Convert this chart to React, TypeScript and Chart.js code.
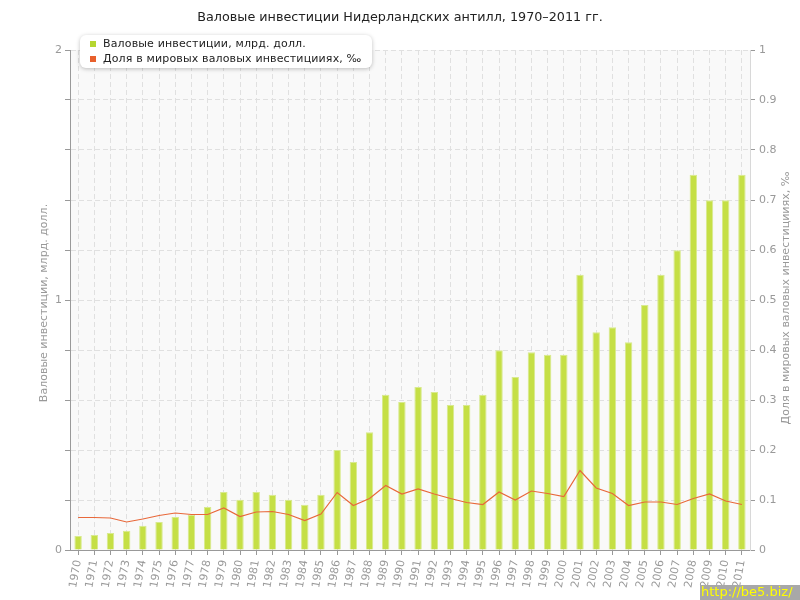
import React, { useEffect, useRef } from 'react';
import { Chart, registerables } from 'chart.js';

Chart.register(...registerables);

const TITLE = 'Валовые инвестиции Нидерландских антилл, 1970–2011 гг.';
const LEFT_TITLE = 'Валовые инвестиции, млрд. долл.';
const RIGHT_TITLE = 'Доля в мировых валовых инвестицииях, ‰';
const SERIES_BAR = 'Валовые инвестиции, млрд. долл.';
const SERIES_LINE = 'Доля в мировых валовых инвестицииях, ‰';

const years = [
  '1970', '1971', '1972', '1973', '1974', '1975', '1976', '1977', '1978', '1979',
  '1980', '1981', '1982', '1983', '1984', '1985', '1986', '1987', '1988', '1989',
  '1990', '1991', '1992', '1993', '1994', '1995', '1996', '1997', '1998', '1999',
  '2000', '2001', '2002', '2003', '2004', '2005', '2006', '2007', '2008', '2009',
  '2010', '2011',
];

const investments = [
  0.056, 0.06, 0.068, 0.077, 0.097, 0.112, 0.132, 0.141, 0.172, 0.232,
  0.201, 0.232, 0.221, 0.201, 0.181, 0.221, 0.4, 0.352, 0.471, 0.621,
  0.592, 0.652, 0.632, 0.58, 0.58, 0.621, 0.799, 0.692, 0.791, 0.781,
  0.781, 1.101, 0.871, 0.891, 0.831, 0.98, 1.101, 1.199, 1.501, 1.399,
  1.399, 1.501,
];

const worldShare = [
  0.065, 0.065, 0.064, 0.056, 0.062, 0.069, 0.074, 0.071, 0.071, 0.084,
  0.067, 0.076, 0.077, 0.071, 0.059, 0.072, 0.115, 0.089, 0.103, 0.129,
  0.112, 0.122, 0.112, 0.103, 0.095, 0.091, 0.116, 0.1, 0.118, 0.113,
  0.107, 0.159, 0.124, 0.113, 0.089, 0.096, 0.096, 0.091, 0.103, 0.112,
  0.098, 0.091,
];

const leftLabels = ['0', '1', '2'];

const FONT = '"DejaVu Sans", Verdana, sans-serif';
const BAR_COLOR = '#c5df45';
const LINE_COLOR = '#e8683a';

const decor = {
  id: 'decor',
  beforeDraw(chart: any) {
    const { ctx, chartArea: a } = chart;
    ctx.save();
    ctx.fillStyle = '#f9f9f9';
    ctx.fillRect(a.left, a.top, a.right - a.left, a.bottom - a.top);
    ctx.restore();
  },
  afterDraw(chart: any) {
    const { ctx } = chart;
    ctx.save();
    ctx.fillStyle = '#222';
    ctx.font = '12.75px ' + FONT;
    ctx.textAlign = 'center';
    ctx.textBaseline = 'middle';
    ctx.fillText(TITLE, 400, 18);

    ctx.fillStyle = '#999';
    ctx.font = '11px ' + FONT;
    ctx.save();
    ctx.translate(44, 303);
    ctx.rotate(-Math.PI / 2);
    ctx.fillText(LEFT_TITLE, 0, 0);
    ctx.restore();
    ctx.save();
    ctx.translate(786, 298);
    ctx.rotate(-Math.PI / 2);
    ctx.fillText(RIGHT_TITLE, 0, 0);
    ctx.restore();

    ctx.fillStyle = '#a8a8a8';
    ctx.fillRect(700, 585, 100, 15);
    ctx.fillStyle = '#ffff00';
    ctx.font = '13px ' + FONT;
    ctx.textAlign = 'left';
    ctx.fillText('http://be5.biz/', 701, 593);
    ctx.restore();
  },
};

export default function App() {
  const ref = useRef<HTMLCanvasElement>(null);

  useEffect(() => {
    document.body.style.margin = '0';
    const canvas = ref.current;
    if (!canvas) return;
    const chart = new Chart(canvas, {
      type: 'bar',
      data: {
        labels: years,
        datasets: [
          {
            type: 'line',
            label: SERIES_LINE,
            data: worldShare,
            yAxisID: 'y1',
            borderColor: LINE_COLOR,
            borderWidth: 1.2,
            pointRadius: 0,
            fill: false,
            tension: 0,
            order: 1,
          } as any,
          {
            type: 'bar',
            label: SERIES_BAR,
            data: investments,
            yAxisID: 'y',
            backgroundColor: BAR_COLOR,
            borderColor: '#d8ea8e',
            borderWidth: 1,
            barPercentage: 0.46,
            categoryPercentage: 1,
            order: 2,
          },
        ],
      },
      options: {
        responsive: false,
        animation: false,
        layout: { padding: { top: 50, left: 0, right: 0, bottom: 0 } },
        plugins: {
          legend: { display: false },
          tooltip: { enabled: false },
          title: { display: false },
        },
        scales: {
          x: {
            type: 'category',
            offset: true,
            z: 1,
            grid: {
              offset: false,
              color: '#e0e0e0',
              lineWidth: 1,
              tickLength: 5,
              tickColor: '#999',
              tickBorderDash: [],
            },
            border: { display: true, color: '#999', width: 1, dash: [5, 3] },
            ticks: {
              autoSkip: false,
              maxRotation: 80,
              minRotation: 80,
              color: '#999',
              padding: 4,
              font: { family: FONT, size: 11 },
            },
            afterFit: (s: any) => { s.height = 50; },
          },
          y: {
            position: 'left',
            min: 0,
            max: 2,
            z: 1,
            ticks: {
              stepSize: 0.2,
              color: '#999',
              padding: 3,
              font: { family: FONT, size: 11 },
              callback: (v: any) => {
                const n = Number(v);
                const r = Math.round(n);
                return Math.abs(n - r) < 1e-6 ? leftLabels[r] : '';
              },
            },
            grid: {
              color: '#e0e0e0',
              lineWidth: 1,
              tickLength: 5,
              tickColor: '#999',
              tickBorderDash: [],
            },
            border: { display: true, color: '#999', width: 1, dash: [5, 3] },
            afterFit: (s: any) => { s.width = 70; },
          },
          y1: {
            position: 'right',
            min: 0,
            max: 1,
            ticks: {
              stepSize: 0.1,
              color: '#999',
              padding: 4,
              font: { family: FONT, size: 11 },
              callback: (v: any) => String(Math.round(Number(v) * 10) / 10),
            },
            grid: {
              drawOnChartArea: false,
              tickLength: 5,
              tickColor: '#999',
            },
            border: { display: true, color: '#d8d8d8', width: 1 },
            afterFit: (s: any) => { s.width = 50; },
          },
        },
      },
      plugins: [decor],
    });
    return () => chart.destroy();
  }, []);

  return (
    <div style={{ position: 'relative', width: 800, height: 600 }}>
      <canvas ref={ref} width={800} height={600} style={{ width: 800, height: 600, display: 'block' }} />
      <div
        style={{
          position: 'absolute',
          left: 80,
          top: 35,
          width: 292,
          height: 33,
          background: '#fff',
          borderRadius: 6,
          boxShadow: '0 1px 4px rgba(0,0,0,0.25)',
          fontFamily: FONT,
          fontSize: 11,
          letterSpacing: '0.15px',
          color: '#222',
          boxSizing: 'border-box',
          padding: '1px 0 0 10px',
          whiteSpace: 'nowrap',
          lineHeight: '15px',
        }}
      >
        <div style={{ display: 'flex', alignItems: 'center', height: 15 }}>
          <span style={{ width: 6, height: 6, background: '#b5d631', display: 'inline-block', marginRight: 7, flex: 'none' }} />
          <span>{SERIES_BAR}</span>
        </div>
        <div style={{ display: 'flex', alignItems: 'center', height: 15 }}>
          <span style={{ width: 6, height: 6, background: '#e8602c', display: 'inline-block', marginRight: 7, flex: 'none' }} />
          <span>{SERIES_LINE}</span>
        </div>
      </div>
    </div>
  );
}
